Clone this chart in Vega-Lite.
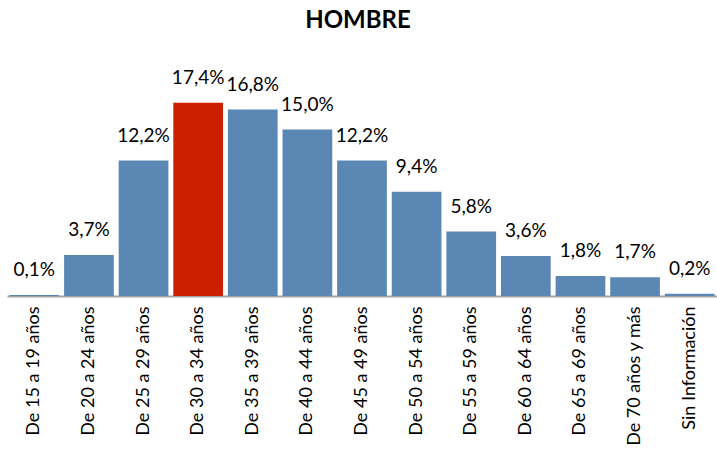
{
  "$schema": "https://vega.github.io/schema/vega-lite/v6.json",
  "width": 710,
  "height": 222,
  "autosize": {"type": "none"},
  "padding": {"left": 7, "top": 74, "right": 0, "bottom": 163},
  "title": {
    "text": "HOMBRE",
    "font": "Lato",
    "fontSize": 24,
    "fontWeight": "bold",
    "color": "#000000",
    "anchor": "middle",
    "offset": 36,
    "dx": -4
  },
  "data": {
    "values": [
      {"grupo": "De 15 a 19 años", "pct": 0.1, "etiqueta": "0,1%", "destacado": "no"},
      {"grupo": "De 20 a 24 años", "pct": 3.7, "etiqueta": "3,7%", "destacado": "no"},
      {"grupo": "De 25 a 29 años", "pct": 12.2, "etiqueta": "12,2%", "destacado": "no"},
      {"grupo": "De 30 a 34 años", "pct": 17.4, "etiqueta": "17,4%", "destacado": "si"},
      {"grupo": "De 35 a 39 años", "pct": 16.8, "etiqueta": "16,8%", "destacado": "no"},
      {"grupo": "De 40 a 44 años", "pct": 15.0, "etiqueta": "15,0%", "destacado": "no"},
      {"grupo": "De 45 a 49 años", "pct": 12.2, "etiqueta": "12,2%", "destacado": "no"},
      {"grupo": "De 50 a 54 años", "pct": 9.4, "etiqueta": "9,4%", "destacado": "no"},
      {"grupo": "De 55 a 59 años", "pct": 5.8, "etiqueta": "5,8%", "destacado": "no"},
      {"grupo": "De 60 a 64 años", "pct": 3.6, "etiqueta": "3,6%", "destacado": "no"},
      {"grupo": "De 65 a 69 años", "pct": 1.8, "etiqueta": "1,8%", "destacado": "no"},
      {"grupo": "De 70 años y más", "pct": 1.7, "etiqueta": "1,7%", "destacado": "no"},
      {"grupo": "Sin Información", "pct": 0.2, "etiqueta": "0,2%", "destacado": "no"}
    ]
  },
  "encoding": {
    "x": {
      "field": "grupo",
      "type": "nominal",
      "sort": null,
      "scale": {"paddingInner": 0.09, "paddingOuter": 0.045},
      "axis": {
        "title": null,
        "labelAngle": -90,
        "labelAlign": "right",
        "labelBaseline": "middle",
        "labelFont": "Lato",
        "labelFontSize": 18,
        "labelColor": "#000000",
        "labelPadding": 10,
        "ticks": false,
        "domainColor": "#a6a6a6",
        "domainWidth": 2,
        "labelLimit": 200
      }
    },
    "y": {
      "field": "pct",
      "type": "quantitative",
      "scale": {"domain": [0, 20], "nice": false},
      "axis": null
    }
  },
  "layer": [
    {
      "mark": {"type": "bar"},
      "encoding": {
        "color": {
          "field": "destacado",
          "type": "nominal",
          "scale": {"domain": ["no", "si"], "range": ["#5b87b4", "#cc1f00"]},
          "legend": null
        }
      }
    },
    {
      "mark": {
        "type": "text",
        "font": "Lato",
        "fontSize": 19,
        "color": "#000000",
        "baseline": "alphabetic",
        "dy": -19
      },
      "encoding": {
        "text": {"field": "etiqueta", "type": "nominal"}
      }
    }
  ],
  "config": {
    "view": {"stroke": null},
    "background": "#ffffff"
  }
}
